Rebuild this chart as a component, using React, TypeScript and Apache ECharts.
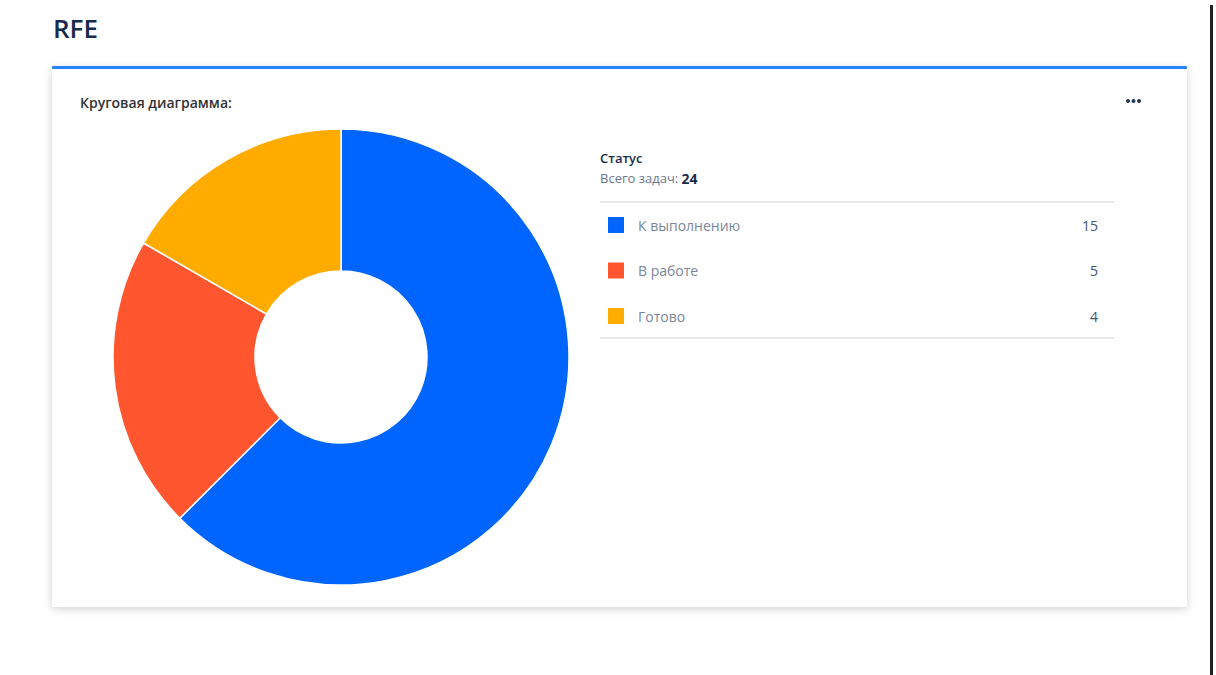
import React, { useEffect, useRef } from "react";
import * as echarts from "echarts";

const categories = ["К выполнению", "В работе", "Готово"];
const values = [15, 5, 4];
const colors = ["#0065FF", "#FF5630", "#FFAB00"];
const pageTitle = "RFE";
const cardTitle = "Круговая диаграмма:";
const legendTitle = "Статус";
const totalLabel = "Всего задач: ";

export default function App() {
  const ref = useRef<HTMLDivElement>(null);
  useEffect(() => {
    if (!ref.current) return;
    const chart = echarts.init(ref.current, undefined, { renderer: "svg" });
    const total = values.reduce((a, b) => a + b, 0);
    const font = "'Open Sans', 'Noto Sans', sans-serif";
    const rowY0 = 225;
    const rowStep = 45.5;
    const legendRows: any[] = [];
    categories.forEach((c, i) => {
      const y = rowY0 + i * rowStep;
      legendRows.push({
        type: "rect",
        shape: { x: 608, y: y - 8, width: 16, height: 16 },
        style: { fill: colors[i] },
      });
      legendRows.push({
        type: "text",
        x: 638,
        y,
        style: { text: c, fill: "#7a869a", font: `14px ${font}`, textVerticalAlign: "middle" },
      });
      legendRows.push({
        type: "text",
        x: 1098,
        y,
        style: {
          text: String(values[i]),
          fill: "#42526e",
          font: `14px ${font}`,
          textAlign: "right",
          textVerticalAlign: "middle",
        },
      });
    });
    chart.setOption({
      animation: false,
      backgroundColor: "#ffffff",
      graphic: [
        {
          type: "rect",
          z: -10,
          shape: { x: 52, y: 67, width: 1135, height: 540, r: 2 },
          style: { fill: "#fff", shadowBlur: 8, shadowColor: "rgba(0,0,0,0.18)", shadowOffsetY: 2 },
        },
        {
          type: "rect",
          z: -9,
          shape: { x: 52, y: 66, width: 1135, height: 3, r: 1 },
          style: { fill: "#2684FF" },
        },
        {
          type: "rect",
          shape: { x: 1210, y: 5, width: 3, height: 670 },
          style: { fill: "#222" },
        },
        {
          type: "text",
          x: 53,
          y: 28,
          style: { text: pageTitle, fill: "#172b4d", font: `600 26px ${font}`, textVerticalAlign: "middle" },
        },
        {
          type: "text",
          x: 80,
          y: 102,
          style: { text: cardTitle, fill: "#333", font: `600 14px ${font}`, textVerticalAlign: "middle" },
        },
        ...[0, 1, 2].map((k) => ({
          type: "circle",
          shape: { cx: 1128 + k * 5.5, cy: 101, r: 2 },
          style: { fill: "#253858" },
        })),
        {
          type: "text",
          x: 600,
          y: 158,
          style: { text: legendTitle, fill: "#172b4d", font: `600 13px ${font}`, textVerticalAlign: "middle" },
        },
        {
          type: "text",
          x: 600,
          y: 178,
          style: {
            text: `{a|${totalLabel}}{b|${total}}`,
            textVerticalAlign: "middle",
            rich: {
              a: { fill: "#6b778c", font: `13px ${font}` },
              b: { fill: "#172b4d", font: `700 14px ${font}` },
            },
          },
        },
        {
          type: "line",
          shape: { x1: 600, y1: 202, x2: 1114, y2: 202 },
          style: { stroke: "#dfe1e6", lineWidth: 1.5 },
        },
        {
          type: "line",
          shape: { x1: 600, y1: 338, x2: 1114, y2: 338 },
          style: { stroke: "#dfe1e6", lineWidth: 1.5 },
        },
        ...legendRows,
      ],
      series: [
        {
          type: "pie",
          center: [341, 357],
          radius: [86, 228],
          startAngle: 90,
          clockwise: true,
          label: { show: false },
          labelLine: { show: false },
          itemStyle: { borderColor: "#fff", borderWidth: 1.5 },
          emphasis: { disabled: true },
          data: categories.map((c, i) => ({ name: c, value: values[i], itemStyle: { color: colors[i] } })),
        },
      ],
    });
    return () => chart.dispose();
  }, []);
  return (
    <div
      ref={ref}
      style={{ position: "absolute", left: 0, top: 0, width: 1216, height: 675 }}
    />
  );
}
